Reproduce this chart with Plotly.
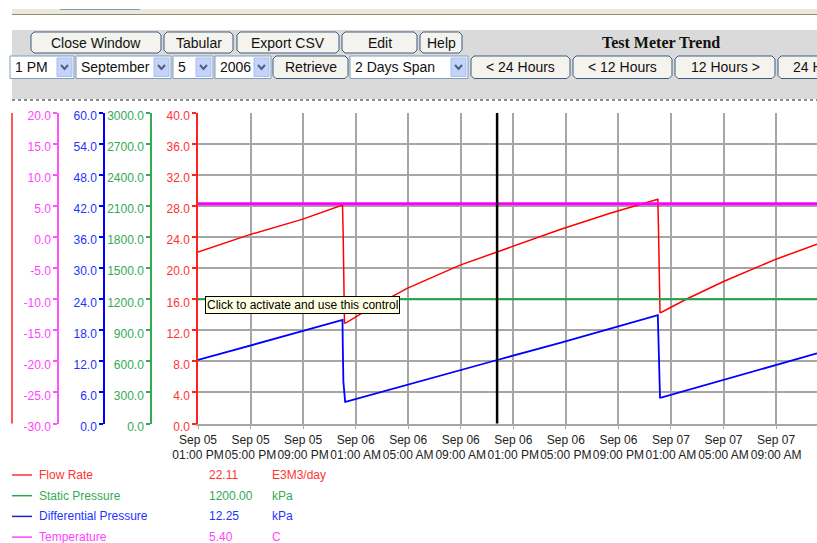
import plotly.graph_objects as go

W, H = 817, 543

# ---------------- data ----------------
x_range = ["2006-09-05 13:00", "2006-09-07 12:07"]
cursor_time = "2006-09-06 11:46"

flow_times = ["2006-09-05 13:00", "2006-09-05 16:53", "2006-09-05 20:55", "2006-09-06 00:00",
              "2006-09-06 00:03", "2006-09-06 00:09", "2006-09-06 00:14", "2006-09-06 01:52",
              "2006-09-06 04:55", "2006-09-06 06:53", "2006-09-06 08:57", "2006-09-06 11:46",
              "2006-09-06 16:34", "2006-09-06 20:22", "2006-09-07 00:00", "2006-09-07 00:03",
              "2006-09-07 00:06", "2006-09-07 00:10", "2006-09-07 00:15", "2006-09-07 02:12",
              "2006-09-07 05:00", "2006-09-07 09:03", "2006-09-07 12:07"]
flow_values = [22.1, 24.3, 26.3, 28.15,
               24.4, 12.94, 12.94, 14.6,
               17.4, 18.9, 20.4, 22.1,
               25.0, 27.08, 28.9, 25.2,
               17.8, 14.3, 14.3, 16.04,
               18.3, 21.2, 23.1]

dp_times = ["2006-09-05 13:00", "2006-09-06 00:00", "2006-09-06 00:01", "2006-09-06 00:04",
            "2006-09-06 00:12", "2006-09-06 00:14", "2006-09-06 11:46", "2006-09-06 16:34",
            "2006-09-07 00:00", "2006-09-07 00:03", "2006-09-07 00:06", "2006-09-07 00:10",
            "2006-09-07 00:15", "2006-09-07 12:07"]
dp_values = [12.27, 20.0, 15.8, 8.07,
             4.2, 4.2, 12.27, 15.6,
             20.95, 17.1, 8.9, 5.0,
             5.0, 13.56]

sp_times = ["2006-09-05 13:00", "2006-09-07 12:07"]
sp_values = [1200.0, 1200.0]

temp_times = ["2006-09-05 13:00", "2006-09-07 12:07"]
temp_values = [5.4, 5.4]

series_names = ["Flow Rate", "Static Pressure", "Differential Pressure", "Temperature"]
cursor_values = ["22.11", "1200.00", "12.25", "5.40"]
series_units = ["E3M3/day", "kPa", "kPa", "C"]

flow_tickvals = [0, 4, 8, 12, 16, 20, 24, 28, 32, 36, 40]
flow_ticktext = ["0.0", "4.0", "8.0", "12.0", "16.0", "20.0", "24.0", "28.0", "32.0", "36.0", "40.0"]
sp_tickvals = [0, 300, 600, 900, 1200, 1500, 1800, 2100, 2400, 2700, 3000]
sp_ticktext = ["0.0", "300.0", "600.0", "900.0", "1200.0", "1500.0", "1800.0", "2100.0",
               "2400.0", "2700.0", "3000.0"]
dp_tickvals = [0, 6, 12, 18, 24, 30, 36, 42, 48, 54, 60]
dp_ticktext = ["0.0", "6.0", "12.0", "18.0", "24.0", "30.0", "36.0", "42.0", "48.0", "54.0", "60.0"]
temp_tickvals = [-30, -25, -20, -15, -10, -5, 0, 5, 10, 15, 20]
temp_ticktext = ["-30.0", "-25.0", "-20.0", "-15.0", "-10.0", "-5.0", "0.0", "5.0", "10.0",
                 "15.0", "20.0"]

# ---------------- colours ----------------
RED, GREEN, BLUE, MAG = "#FF0000", "#1FA345", "#0000FF", "#FF00FF"
RED_T, GREEN_T, BLUE_T, MAG_T = "#FF3333", "#33AA55", "#2233FF", "#FF44FF"


def px(x):
    return x / W


def py(y):
    return 1 - y / H


Y0, Y1 = 423.5, 113
XD0 = 198

fig = go.Figure()
fig.add_trace(go.Scatter(x=sp_times, y=sp_values, yaxis="y2", mode="lines",
                         line=dict(color=GREEN, width=2), name=series_names[1]))
fig.add_trace(go.Scatter(x=temp_times, y=temp_values, yaxis="y4", mode="lines",
                         line=dict(color=MAG, width=3), name=series_names[3]))
fig.add_trace(go.Scatter(x=dp_times, y=dp_values, yaxis="y3", mode="lines",
                         line=dict(color=BLUE, width=1.8), name=series_names[2]))
fig.add_trace(go.Scatter(x=flow_times, y=flow_values, yaxis="y", mode="lines",
                         line=dict(color=RED, width=1.5), name=series_names[0]))

FONT = "Liberation Sans, Arial, sans-serif"
ydom = [py(Y0), py(Y1)]


def yax(tv, tt, col, tcol, rng, **kw):
    d = dict(domain=ydom, range=rng, tickvals=tv, ticktext=tt, showline=True, linecolor=col,
             linewidth=1.5, ticks="outside", ticklen=4, tickcolor=col, tickwidth=1.5,
             tickfont=dict(family=FONT, size=12, color=tcol), zeroline=False, showgrid=False,
             fixedrange=True, automargin=False, ticklabelshift=3)
    d.update(kw)
    return d


fig.update_layout(
    width=W, height=H, margin=dict(l=0, r=0, t=0, b=0, pad=0), autosize=False,
    paper_bgcolor="white", plot_bgcolor="white", showlegend=False,
    font=dict(family=FONT, size=12, color="#222"),
    xaxis=dict(domain=[px(XD0), 1], range=x_range, type="date",
               tick0="2006-09-05 13:00", dtick=4 * 3600 * 1000, tickangle=0,
               tickformat="%b %d<br>%I:%M %p", showgrid=True, gridcolor="#A6A6A6", gridwidth=1.5,
               showline=True, linecolor="#A6A6A6", linewidth=1.5, ticks="outside", ticklen=4,
               tickcolor="#A6A6A6", tickfont=dict(family=FONT, size=12, color="#222"),
               zeroline=False, anchor="y", automargin=False),
    yaxis=yax(flow_tickvals, flow_ticktext, "#FF2020", RED_T, [0, 40], showgrid=True,
              gridcolor="#A6A6A6", gridwidth=1.5, anchor="x"),
    yaxis2=yax(sp_tickvals, sp_ticktext, GREEN_T, GREEN_T, [0, 3000], overlaying="y",
               anchor="free", position=px(151)),
    yaxis3=yax(dp_tickvals, dp_ticktext, BLUE, BLUE_T, [0, 60], overlaying="y",
               anchor="free", position=px(104)),
    yaxis4=yax(temp_tickvals, temp_ticktext, "#FF55FF", MAG_T, [-30, 20], overlaying="y",
               anchor="free", position=px(58)),
)

shapes = []
ann = []


def rect(x0, y0, x1, y1, fill, line=None, lw=1, layer="below"):
    shapes.append(dict(type="rect", xref="paper", yref="paper", x0=px(x0), x1=px(x1),
                       y0=py(y1), y1=py(y0), fillcolor=fill,
                       line=dict(color=line or fill, width=lw if line else 0), layer=layer))


def line(x0, y0, x1, y1, col, w=1, dash="solid", layer="above"):
    shapes.append(dict(type="line", xref="paper", yref="paper", x0=px(x0), x1=px(x1),
                       y0=py(y0), y1=py(y1), line=dict(color=col, width=w, dash=dash), layer=layer))


def rrect(x0, y0, x1, y1, fill, col, r=3):
    pts = [(x0 + r, y0), (x1 - r, y0), (x1, y0 + r), (x1, y1 - r), (x1 - r, y1), (x0 + r, y1),
           (x0, y1 - r), (x0, y0 + r)]
    path = "M " + " L ".join(f"{px(a):.5f},{py(b):.5f}" for a, b in pts) + " Z"
    shapes.append(dict(type="path", xref="paper", yref="paper", path=path, fillcolor=fill,
                       line=dict(color=col, width=1), layer="below"))


def text(x, y, s, col="#000", size=12, xa="left", family=FONT, **kw):
    ann.append(dict(xref="paper", yref="paper", x=px(x), y=py(y), text=s, showarrow=False,
                    xanchor=xa, yanchor="middle", font=dict(family=family, size=size, color=col),
                    **kw))


# ------------- browser chrome / toolbar -------------
rect(12, 9, 817, 14, "#ECE9D8")
line(12, 14.5, 817, 14.5, "#8A8A80", 1.2)
line(60, 9.5, 140, 9.5, "#7A9CC8", 1.2)
rect(12, 30, 817, 99, "#DADADA")
line(12, 100, 817, 100, "#666666", 1.5, dash="dot")

for lbl, a, b in [("Close Window", 31, 161), ("Tabular", 164, 233), ("Export CSV", 237, 339),
                  ("Edit", 342, 417), ("Help", 420, 462)]:
    rrect(a, 32, b, 53, "#F4F3EE", "#3C5C80")
    text((a + b) / 2, 43, lbl, "#111", 14, xa="center")

for lbl, a, b in [("Retrieve", 273, 348), ("&lt; 24 Hours", 471, 570), ("&lt; 12 Hours", 573, 672),
                  ("12 Hours &gt;", 675, 775), ("24 Hours &gt;", 778, 877)]:
    rrect(a, 56, b, 78.5, "#F4F3EE", "#3C5C80")
    text((a + b) / 2, 67.5, lbl, "#111", 14, xa="center")

for lbl, a, b in [("1 PM", 10, 74), ("September", 76, 171), ("5", 173, 213), ("2006", 215, 271),
                  ("2 Days Span", 350, 468)]:
    rect(a, 56, b, 78.5, "white", "#7F9DB9", 1)
    rect(b - 17, 58, b - 2, 76.5, "#C3D3FA", "#A9BEEA", 1)
    cx = b - 9.5
    shapes.append(dict(type="path", xref="paper", yref="paper",
                       path=f"M {px(cx-3.5):.5f},{py(65):.5f} L {px(cx):.5f},{py(69):.5f} L {px(cx+3.5):.5f},{py(65):.5f}",
                       line=dict(color="#4D6185", width=2), layer="above"))
    text(a + 3, 67.5, lbl, "#111", 14)

text(661, 42, "<b>Test Meter Trend</b>", "#111", 16, xa="center",
     family="Liberation Serif, Times New Roman, serif")

# ------------- extra left red line -------------
line(12, Y1, 12, Y0, "#FF2020", 1.5)

# ------------- cursor -------------
shapes.append(dict(type="line", xref="x", yref="paper", x0=cursor_time, x1=cursor_time,
                   y0=py(Y0), y1=py(Y1), line=dict(color="black", width=2.5), layer="above"))

# ------------- tooltip -------------
ann.append(dict(xref="paper", yref="paper", x=px(205), y=py(296), xanchor="left", yanchor="top",
                text="Click to activate and use this control", showarrow=False,
                font=dict(family=FONT, size=12, color="#000"), bgcolor="#FFFFE1",
                bordercolor="#000", borderwidth=1, borderpad=1))

# ------------- legend -------------
leg_cols = ["#FF3030", "#22AA44", "#2020CC", "#FF44FF"]
leg_tcols = [RED_T, GREEN_T, BLUE_T, MAG_T]
for i, (nm, val, un) in enumerate(zip(series_names, cursor_values, series_units)):
    yy = 475 + i * 20.7
    line(12, yy, 32, yy, leg_cols[i], 1.5)
    text(37, yy, nm, leg_tcols[i], 12)
    text(207, yy, val, leg_tcols[i], 12)
    text(270, yy, un, leg_tcols[i], 12)

fig.update_layout(shapes=shapes, annotations=ann)
fig.write_html("out.html", config={"displayModeBar": False},
               post_script="document.body.style.margin='0px';document.body.style.overflow='hidden';")
